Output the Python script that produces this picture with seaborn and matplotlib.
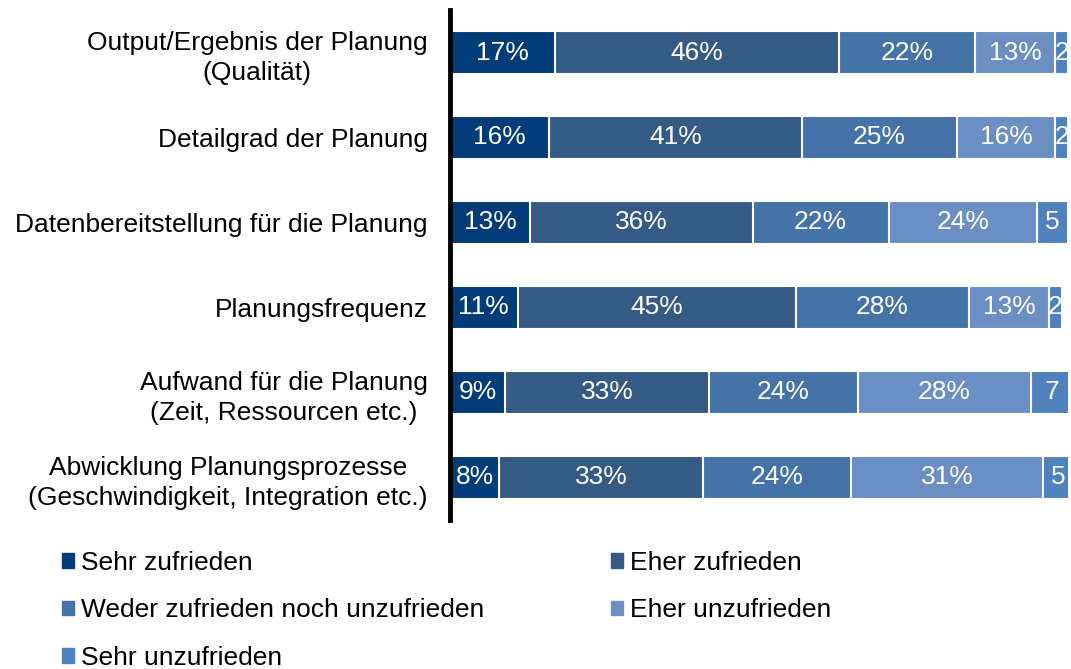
#!/usr/bin/env python3
"""Stacked bar chart: Zufriedenheit mit der Planung."""

import matplotlib
matplotlib.use("Agg")
import matplotlib.pyplot as plt
import matplotlib.patches as mpatches
import seaborn as sns
import numpy as np
import pandas as pd

categories = [
    "Output/Ergebnis der Planung\n(Qualität)",
    "Detailgrad der Planung",
    "Datenbereitstellung für die Planung",
    "Planungsfrequenz",
    "Aufwand für die Planung\n(Zeit, Ressourcen etc.)",
    "Abwicklung Planungsprozesse\n(Geschwindigkeit, Integration etc.)",
]
series_names = [
    "Sehr zufrieden",
    "Eher zufrieden",
    "Weder zufrieden noch unzufrieden",
    "Eher unzufrieden",
    "Sehr unzufrieden",
]
sehr_zufrieden = [17, 16, 13, 11, 9, 8]
eher_zufrieden = [46, 41, 36, 45, 33, 33]
weder_noch = [22, 25, 22, 28, 24, 24]
eher_unzufrieden = [13, 16, 24, 13, 28, 31]
sehr_unzufrieden = [2, 2, 5, 2, 7, 5]
colors = ["#003C78", "#355A84", "#4573A7", "#6B8FC2", "#4F81BD"]

sns.set_style("white")
plt.rcParams["font.family"] = ["Liberation Sans", "DejaVu Sans"]
plt.rcParams["text.color"] = "black"
plt.rcParams["ytick.labelcolor"] = "black"

values = np.array([sehr_zufrieden, eher_zufrieden, weder_noch,
                   eher_unzufrieden, sehr_unzufrieden], dtype=float)
cum = np.cumsum(values, axis=0)
starts = cum - values

fig = plt.figure(figsize=(10.71, 6.69), dpi=100)
ax = fig.add_axes([0.42, 0.223, 0.577, 0.762])

# draw cumulative totals from the largest down so segments stack
for i in reversed(range(len(series_names))):
    df = pd.DataFrame({"Kategorie": categories, "Wert": cum[i]})
    sns.barplot(data=df, x="Wert", y="Kategorie", orient="h", color=colors[i],
                saturation=1, width=0.5, edgecolor="white", linewidth=1.5, ax=ax)

for i in range(len(series_names)):
    for j in range(len(categories)):
        v = values[i, j]
        txt = f"{int(v)}%" if v >= 8 else f"{int(v)}"
        ax.text(starts[i, j] + v / 2, j, txt, ha="center", va="center",
                color="white", fontsize=19)

ax.set_xlim(0, 100)
ax.set_ylim(len(categories) - 0.5, -0.5)
ax.set_xlabel("")
ax.set_ylabel("")
ax.set_xticks([])
ax.tick_params(axis="y", length=0, pad=16, labelsize=19)
for lbl in ax.get_yticklabels():
    lbl.set_multialignment("center")
    lbl.set_linespacing(1.32)
for s in ["top", "right", "bottom"]:
    ax.spines[s].set_visible(False)
ax.spines["left"].set_linewidth(3.5)
ax.spines["left"].set_color("black")

handles = [mpatches.Patch(color=c, label=n) for c, n in zip(colors, series_names)]
order = [0, 2, 4, 1, 3]
fig.legend([handles[k] for k in order], [series_names[k] for k in order],
           loc="upper left", bbox_to_anchor=(0.036, 0.212), ncol=2,
           frameon=False, fontsize=19, handlelength=0.45, handleheight=0.45,
           handletextpad=0.27, columnspacing=4.8, labelspacing=0.89)

plt.savefig("out.png", dpi=100)
plt.close()
